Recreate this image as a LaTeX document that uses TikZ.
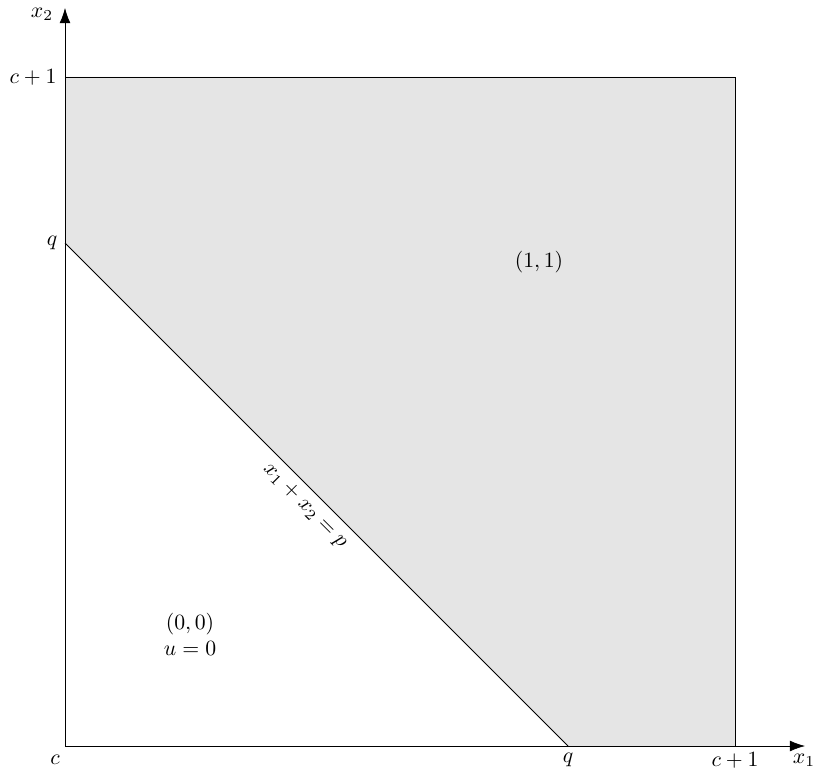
\documentclass[tikz,border=0pt]{standalone}
\usetikzlibrary{arrows.meta}
\begin{document}
\begin{tikzpicture}[x=0.46pt,y=0.46pt,
  axis/.style={line width=0.3pt,-{Latex[length=7pt,width=5pt]}},
  edge/.style={line width=0.45pt},
  lbl/.style={inner sep=1pt}]
\useasboundingbox (0,0) rectangle (815,778);
\coordinate (O) at (65,32);
\coordinate (XE) at (805,32);
\coordinate (YE) at (65,770);
\coordinate (BR) at (735,32);
\coordinate (TR) at (735,701);
\coordinate (TL) at (65,701);
\coordinate (QX) at (568,32);
\coordinate (QY) at (65,535);
\fill[black!10] (QY) -- (TL) -- (TR) -- (BR) -- (QX) -- cycle;
\draw[edge] (QY) -- (QX);
\draw[edge] (TL) -- (TR) -- (BR);
\draw[edge] (O) -- (TL);
\draw[axis] (O) -- (XE);
\draw[axis] (TL) -- (YE);
\node[lbl] (lx2) at (42,764) {$x_2$};
\node[lbl] (lx1) at (804,18) {$x_1$};
\node[lbl] (lc1y) at (33,701) {$c+1$};
\node[lbl] (lqy) at (52,535) {$q$};
\node[lbl] (lc) at (55,18) {$c$};
\node[lbl] (lqx) at (568,18) {$q$};
\node[lbl] (lc1x) at (735,18) {$c+1$};
\node[lbl,rotate=-45] (lline) at (305,272) {$x_1+x_2=p$};
\node[lbl] (l11) at (539,516) {$(1,1)$};
\node[lbl,align=center] (l00) at (190,144) {$(0,0)$\\$u=0$};
\end{tikzpicture}
\end{document}
